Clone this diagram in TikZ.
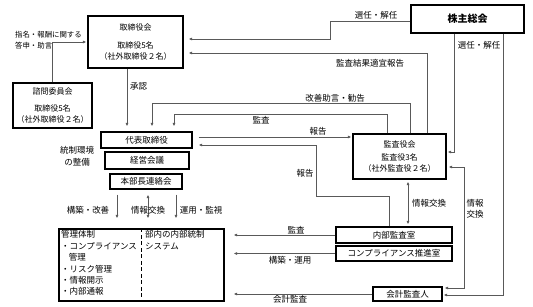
\documentclass[tikz,border=0pt]{standalone}
\usepackage{fontspec}
\setmainfont{Noto Sans CJK JP}
\usetikzlibrary{arrows.meta,calc}
\begin{document}
\begin{tikzpicture}[x=1pt,y=-1pt,
  every node/.style={font=\fontsize{8.5}{11}\selectfont},
  box/.style={draw=black,line width=1.2pt,inner sep=0,align=center},
  bigbox/.style={box,font=\fontsize{8}{11}\selectfont},
  conn/.style={draw=black!65,line width=0.7pt},
  arr/.style={conn,-{Latex[length=3.5pt,width=3pt]},shorten >=4pt},
  darr/.style={conn,{Latex[length=3.5pt,width=3pt]}-{Latex[length=3.5pt,width=3pt]},shorten >=2pt,shorten <=2pt},
  lbl/.style={inner sep=0,align=center}
]
\useasboundingbox (0,0) rectangle (533,306);

% boxes
\node[bigbox,minimum width=95pt,minimum height=52pt] (tori) at (135.5,42) {取締役会\\[7pt]取締役5名\\（社外取締役２名）};
\node[box,minimum width=113pt,minimum height=28pt,font=\bfseries\fontsize{10}{12}\selectfont] (kabu) at (467.5,19) {株主総会};
\node[bigbox,minimum width=79pt,minimum height=45pt] (shimon) at (52.5,105.5) {諮問委員会\\[6pt]取締役5名\\（社外取締役２名）};
\node[box,minimum width=91pt,minimum height=16pt] (daihyo) at (146.5,140) {代表取締役};
\node[box,minimum width=84pt,minimum height=17pt] (keiei) at (147,160.5) {経営会議};
\node[box,minimum width=72pt,minimum height=15pt] (honbu) at (146,181.5) {本部長連絡会};
\node[bigbox,minimum width=93pt,minimum height=45pt] (kansayaku) at (399.5,156.5) {監査役会\\[2pt]監査役3名\\（社外監査役２名）};
\node[box,minimum width=165pt,minimum height=72pt] (kanri) at (141.5,265) {};
\node[box,minimum width=116pt,minimum height=16pt] (naibu) at (394,235) {内部監査室};
\node[box,minimum width=116pt,minimum height=15pt] (comp) at (394,253.5) {コンプライアンス推進室};
\node[box,minimum width=69pt,minimum height=14pt] (kaikei) at (407.5,294) {会計監査人};

% contents of kanri
\draw[line width=1.2pt,dash pattern=on 4pt off 2.5pt] ($(kanri.north west)+(83,0)$) -- ($(kanri.south west)+(83,0)$);
\node[lbl,anchor=north west,align=left,font=\fontsize{8.5}{11.4}\selectfont] (kanriL) at (61,230.5) {管理体制\\・コンプライアンス\\\hspace*{0.9em}管理\\・リスク管理\\・情報開示\\・内部通報};
\node[lbl,anchor=north west,align=left,font=\fontsize{8.5}{11.4}\selectfont] (kanriR) at (145,230.5) {部内の内部統制\\システム};

% labels
\node[lbl,anchor=west,align=left,font=\fontsize{7.4}{11}\selectfont] (t1) at (15,40.5) {指名・報酬に関する\\答申・助言};
\node[lbl,anchor=west] (t2) at (130,86) {承認};
\node[lbl] (t3) at (376,15) {選任・解任};
\node[lbl] (t4) at (479,45) {選任・解任};
\node[lbl] (t5) at (370,63) {監査結果適宜報告};
\node[lbl] (t6) at (335,98) {改善助言・勧告};
\node[lbl] (t7) at (261,120) {監査};
\node[lbl] (t8) at (318,131.5) {報告};
\node[lbl] (t9) at (305,173) {報告};
\node[lbl] (t10) at (429,203) {情報交換};
\node[lbl] (t11) at (475,209) {情報\\交換};
\node[lbl,font=\fontsize{8.5}{12}\selectfont] (t12) at (77,156) {統制環境\\の整備};
\node[lbl] (t13) at (88,210) {構築・改善};
\node[lbl] (t15) at (201,210) {運用・監視};
\node[lbl] (t16) at (296,230) {監査};
\node[lbl] (t17) at (290,260) {構築・運用};
\node[lbl] (t18) at (290,299.5) {会計監査};

% helper points
\coordinate (h1) at ($(honbu.south)+(-29,5)$);
\coordinate (h2) at ($(honbu.south)+(2,5)$);
\coordinate (h3) at ($(honbu.south)+(30,5)$);
\coordinate (k1) at ($(kanri.north)+(0,-10)$);

% connectors
\draw[arr,shorten >=1pt] (shimon.north) |- (tori.west);
\draw[arr,shorten >=5pt] ($(kabu.west)+(0,2)$) -- (330,21) -- (330,39) -- ($(tori.east)+(0,-3)$);
\draw[arr,shorten >=5pt] ($(kansayaku.north)+(27.5,0)$) |- ($(tori.east)+(0,11)$);
\draw[arr,shorten >=1pt] ($(kabu.south)+(-13.5,0)$) |- ($(kansayaku.east)+(0,-4.5)$);
\draw[arr,shorten >=1pt] ($(kabu.south)+(35.5,0)$) |- ($(kaikei.east)+(0,1)$);
\draw[darr] ($(kansayaku.east)+(0,10.5)$) -- ++(18,0) |- ($(kaikei.east)+(0,-6)$);
\draw[darr] ($(kansayaku.south)+(8.5,0)$) -- ($(naibu.north)+(14,0)$);
\draw[arr,shorten >=6pt] ($(naibu.north)+(-5,0)$) -- ++(0,-30) -| (316,145) -- ($(daihyo.east)+(0,5)$);
\draw[arr,shorten >=1pt] ($(daihyo.east)+(6,-3)$) -- ($(kansayaku.west)+(0,-19.5)$);
\draw[arr,shorten >=5pt] ($(kansayaku.north)+(-12.5,0)$) -- ++(0,-19) -| ($(daihyo.north)+(27.5,0)$);
\draw[arr,shorten >=5pt] ($(kansayaku.north)+(10.5,0)$) -- ++(0,-30) -| ($(daihyo.north)+(5.5,0)$);
\draw[arr,shorten >=5pt] ($(tori.south)+(-8.5,0)$) -- ($(daihyo.north)+(-19.5,0)$);
\draw[arr,shorten >=0pt] (h1) -- (h1 |- k1);
\draw[darr,shorten >=0pt,shorten <=0pt] (h2) -- (h2 |- k1);
\draw[arr,shorten >=0pt] (h3) -- (h3 |- k1);
\node[lbl] (t14) at (148,210) {情報交換};
\draw[arr,shorten >=9pt] (naibu.west) -- (naibu.west -| kanri.east);
\draw[arr,shorten >=9pt] (comp.west) -- (comp.west -| kanri.east);
\draw[arr,shorten >=9pt] (kaikei.west) -- (kaikei.west -| kanri.east);
\end{tikzpicture}
\end{document}
